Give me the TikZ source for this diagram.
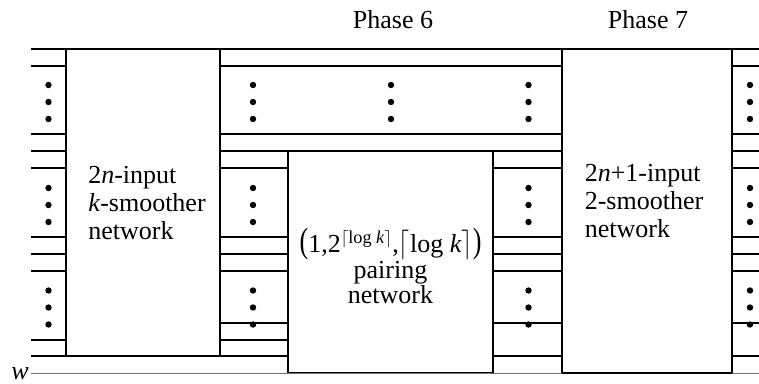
\documentclass[tikz,border=0pt]{standalone}
\usepackage{amsmath}
\usepackage{graphicx}
\usepackage{fontspec}
\setmainfont{Liberation Serif}

\begin{document}
\begin{tikzpicture}[x=1pt,y=-1pt,
    wire/.style={line width=1.1pt},
    wwire/.style={line width=0.9pt, black!55},
    netbox/.style={draw, line width=1.6pt, fill=white, inner sep=0pt, outer sep=0pt},
    lbl/.style={font=\fontsize{26}{28}\selectfont, inner sep=0pt}]
    \useasboundingbox (0,0) rectangle (759,383);
    \coordinate (lin) at (31,0);
    \coordinate (rout) at (759,0);
    \node[netbox, minimum width=154pt, minimum height=307pt] (ksm) at (143,202.5) {};
    \node[netbox, minimum width=205pt, minimum height=222pt] (pair) at (390.5,262) {};
    \node[netbox, minimum width=170pt, minimum height=324pt] (tsm) at (647,211) {};
    \draw[wire] (lin |- 0,49) -- (rout |- 0,49);
    \foreach \y in {66,134,151} {
        \draw[wire] (lin |- 0,\y) -- (ksm.west |- 0,\y);
        \draw[wire] (ksm.east |- 0,\y) -- (tsm.west |- 0,\y);
        \draw[wire] (tsm.east |- 0,\y) -- (rout |- 0,\y);
    }
    \foreach \y in {168,237,254,271} {
        \draw[wire] (lin |- 0,\y) -- (ksm.west |- 0,\y);
        \draw[wire] (ksm.east |- 0,\y) -- (pair.west |- 0,\y);
        \draw[wire] (pair.east |- 0,\y) -- (tsm.west |- 0,\y);
        \draw[wire] (tsm.east |- 0,\y) -- (rout |- 0,\y);
    }
    \draw[wire] (ksm.east |- 0,323) -- (pair.west |- 0,323);
    \draw[wire] (pair.east |- 0,323) -- (tsm.west |- 0,323);
    \draw[wire] (tsm.east |- 0,323) -- (rout |- 0,323);
    \draw[wire] (lin |- 0,340) -- (ksm.west |- 0,340);
    \draw[wire] (ksm.east |- 0,340) -- (pair.west |- 0,340);
    \draw[wire] (lin |- 0,356) -- (pair.west |- 0,356);
    \draw[wire] (pair.east |- 0,356) -- (tsm.west |- 0,356);
    \draw[wire] (tsm.east |- 0,356) -- (rout |- 0,356);
    \draw[wwire] (lin |- 0,373) -- (tsm.south west);
    \draw[wwire] (tsm.south east) -- (rout |- 0,373);
    \foreach \x in {48.5,253,528.5,750}
        \foreach \c in {102,205,307.5}
            \foreach \d in {-17,0,17}
                \fill (\x,\c+\d) circle (3.2pt);
    \foreach \d in {-17,0,17}
        \fill (391,102+\d) circle (3.2pt);
    \node[lbl, align=left] (ksmtext) at (147,203.5) {2\textit{n}-input\\\textit{k}-smoother\\network};
    \node[lbl, align=left] (tsmtext) at (644,201) {2\textit{n}+1-input\\2-smoother\\network};
    \node[lbl, align=center, font=\fontsize{26}{25.5}\selectfont] (pairtext) at (390.5,266)
        {\scalebox{1}[1.35]{(}1,2\(^{\lceil\text{log }\textit{k}\rceil}\),\scalebox{1}[1.2]{\(\lceil\)}log \textit{k}\scalebox{1}[1.2]{\(\rceil\)}\scalebox{1}[1.35]{)}\\pairing\\network};
    \node[lbl, anchor=base] (ph6) at (393,28) {Phase 6};
    \node[lbl, anchor=base] (ph7) at (648,28) {Phase 7};
    \node[lbl, anchor=base east] (wlab) at (29,379) {\textit{w}};
\end{tikzpicture}
\end{document}
